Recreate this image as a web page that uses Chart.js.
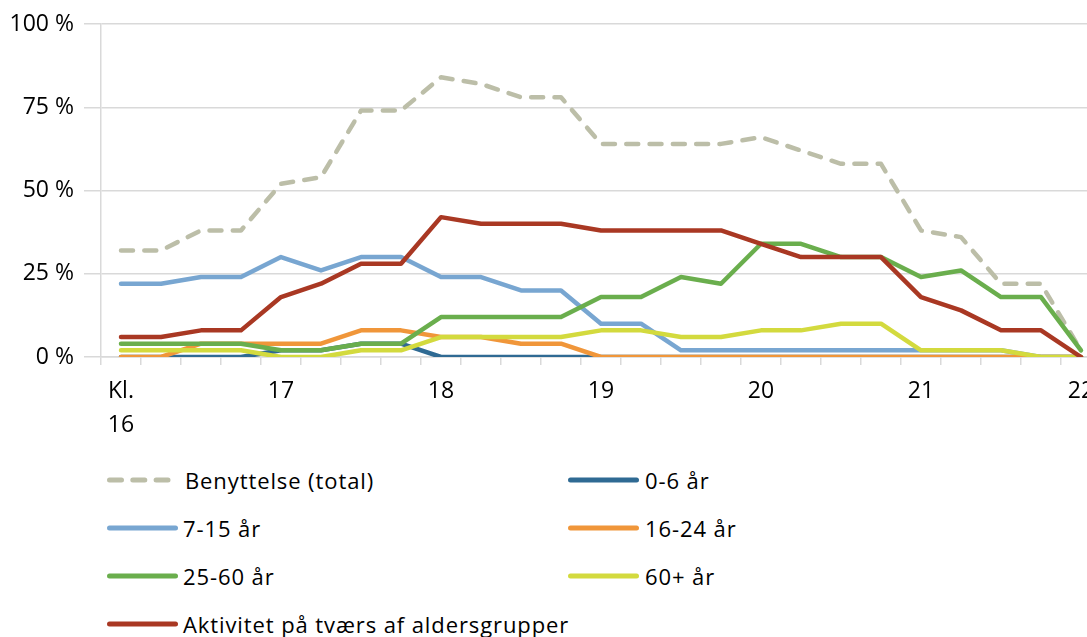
<!DOCTYPE html>
<html>
<head>
<meta charset="utf-8">
<script src="https://cdn.jsdelivr.net/npm/chart.js@4.4.0/dist/chart.umd.min.js"></script>
<style>
  html, body { margin: 0; padding: 0; background: #fff; overflow: hidden; }
  #wrap { position: relative; width: 1087px; height: 637px; overflow: hidden; font-family: "Open Sans", sans-serif; }
  #chart { position: absolute; left: 0; top: 0; }
  .swatch { position: absolute; }
  .label { position: absolute; font-size: 22px; letter-spacing: 0.9px; line-height: 30px; color: #000; white-space: nowrap; }
</style>
</head>
<body>
<div id="wrap">
  <canvas id="chart" width="1120" height="450"></canvas>
  <div id="legend"></div>
</div>
<script>
// quarter-hour steps from 16:00 to 22:00
const categories = [
    '16:00', '16:15', '16:30', '16:45', '17:00', '17:15', '17:30', '17:45',
    '18:00', '18:15', '18:30', '18:45', '19:00', '19:15', '19:30', '19:45',
    '20:00', '20:15', '20:30', '20:45', '21:00', '21:15', '21:30', '21:45', '22:00'
];
const hourLabels = [['Kl.', '16'], '17', '18', '19', '20', '21', '22'];
const yTicks = [0, 25, 50, 75, 100];

const benyttelse = [32, 32, 38, 38, 52, 54, 74, 74, 84, 82, 78, 78, 64, 64, 64, 64, 66, 62, 58, 58, 38, 36, 22, 22, 2];
const age0to6    = [0, 0, 0, 0, 2, 2, 4, 4, 0, 0, 0, 0, 0, 0, 0, 0, 0, 0, 0, 0, 0, 0, 0, 0, 0];
const age7to15   = [22, 22, 24, 24, 30, 26, 30, 30, 24, 24, 20, 20, 10, 10, 2, 2, 2, 2, 2, 2, 2, 2, 2, 0, 0];
const age16to24  = [0, 0, 4, 4, 4, 4, 8, 8, 6, 6, 4, 4, 0, 0, 0, 0, 0, 0, 0, 0, 0, 0, 0, 0, 0];
const age25to60  = [4, 4, 4, 4, 2, 2, 4, 4, 12, 12, 12, 12, 18, 18, 24, 22, 34, 34, 30, 30, 24, 26, 18, 18, 2];
const age60plus  = [2, 2, 2, 2, 0, 0, 2, 2, 6, 6, 6, 6, 8, 8, 6, 6, 8, 8, 10, 10, 2, 2, 2, 0, 0];
const aktivitet  = [6, 6, 8, 8, 18, 22, 28, 28, 42, 40, 40, 40, 38, 38, 38, 38, 34, 30, 30, 30, 18, 14, 8, 8, 0];

const seriesNames = ['Benyttelse (total)', '0-6 år', '7-15 år', '16-24 år', '25-60 år', '60+ år', 'Aktivitet på tværs af aldersgrupper'];
const seriesValues = [benyttelse, age0to6, age7to15, age16to24, age25to60, age60plus, aktivitet];
const seriesColors = ['#bcbea8', '#2f6a93', '#78a6d1', '#f0963a', '#6aae4d', '#d3da3e', '#a93823'];
const dashedSeries = ['Benyttelse (total)'];

const gridColor = '#d9d9d9';
const DASH = [12, 11.3];

Chart.defaults.font.family = '"Open Sans", sans-serif';
Chart.defaults.font.size = 23;
Chart.defaults.color = '#000';

const datasets = seriesNames.map((name, i) => ({
    label: name,
    data: seriesValues[i],
    borderColor: seriesColors[i],
    backgroundColor: seriesColors[i],
    borderWidth: 4.5,
    borderDash: dashedSeries.includes(name) ? DASH : [],
    borderCapStyle: 'round',
    borderJoinStyle: 'round',
    pointRadius: 0,
    tension: 0,
    fill: false,
    order: seriesNames.length - i   // later series on top, like the original
}));

const ctx = document.getElementById('chart').getContext('2d');
const chart = new Chart(ctx, {
    type: 'line',
    data: { labels: categories, datasets: datasets },
    options: {
        responsive: false,
        animation: false,
        layout: { padding: { top: 24, right: 19, bottom: 0, left: 0 } },
        plugins: {
            legend: { display: false },
            tooltip: { enabled: false }
        },
        scales: {
            x: {
                offset: true,
                grid: {
                    offset: true,
                    drawOnChartArea: false,
                    drawTicks: true,
                    tickLength: 8,
                    color: gridColor,
                    lineWidth: 1.5
                },
                border: { color: gridColor, width: 1.5 },
                ticks: {
                    autoSkip: false,
                    maxRotation: 0,
                    padding: 10,
                    font: { size: 23, lineHeight: 1.45 },
                    callback: (val, index) => index % 4 === 0 ? hourLabels[index / 4] : ''
                },
                afterFit: scale => { scale.height = 93; }
            },
            y: {
                min: 0,
                max: 100,
                afterBuildTicks: scale => { scale.ticks = yTicks.map(v => ({ value: v })); },
                grid: {
                    color: gridColor,
                    lineWidth: 1.5,
                    drawTicks: true,
                    tickLength: 17
                },
                border: { color: gridColor, width: 1.5 },
                ticks: {
                    padding: 10,
                    font: { size: 23 },
                    callback: v => v + ' %'
                },
                afterFit: scale => { scale.width = 101; }
            }
        }
    }
});

// legend in two columns, built from the same series arrays
const legend = document.getElementById('legend');
const colX = [107, 568];
const textX = [183, 645];
seriesNames.forEach((name, i) => {
    const col = i % 2;
    const row = Math.floor(i / 2);
    const cy = 480 + row * 48;
    const svgNS = 'http://www.w3.org/2000/svg';
    const svg = document.createElementNS(svgNS, 'svg');
    svg.setAttribute('width', 80);
    svg.setAttribute('height', 12);
    svg.setAttribute('class', 'swatch');
    svg.style.left = (colX[col] - 3) + 'px';
    svg.style.top = (cy - 6) + 'px';
    const line = document.createElementNS(svgNS, 'line');
    const dashed = dashedSeries.includes(name);
    line.setAttribute('x1', 5.5);
    line.setAttribute('x2', dashed ? 64 : 71.5);
    line.setAttribute('y1', 6);
    line.setAttribute('y2', 6);
    line.setAttribute('stroke', seriesColors[i]);
    line.setAttribute('stroke-width', 5);
    line.setAttribute('stroke-linecap', 'round');
    if (dashed) line.setAttribute('stroke-dasharray', DASH.join(' '));
    svg.appendChild(line);
    legend.appendChild(svg);

    const span = document.createElement('div');
    span.className = 'label';
    span.textContent = name;
    span.style.left = (textX[col] + (dashed ? 2 : 0)) + 'px';
    span.style.top = (cy - 15) + 'px';
    legend.appendChild(span);
});
</script>
</body>
</html>
